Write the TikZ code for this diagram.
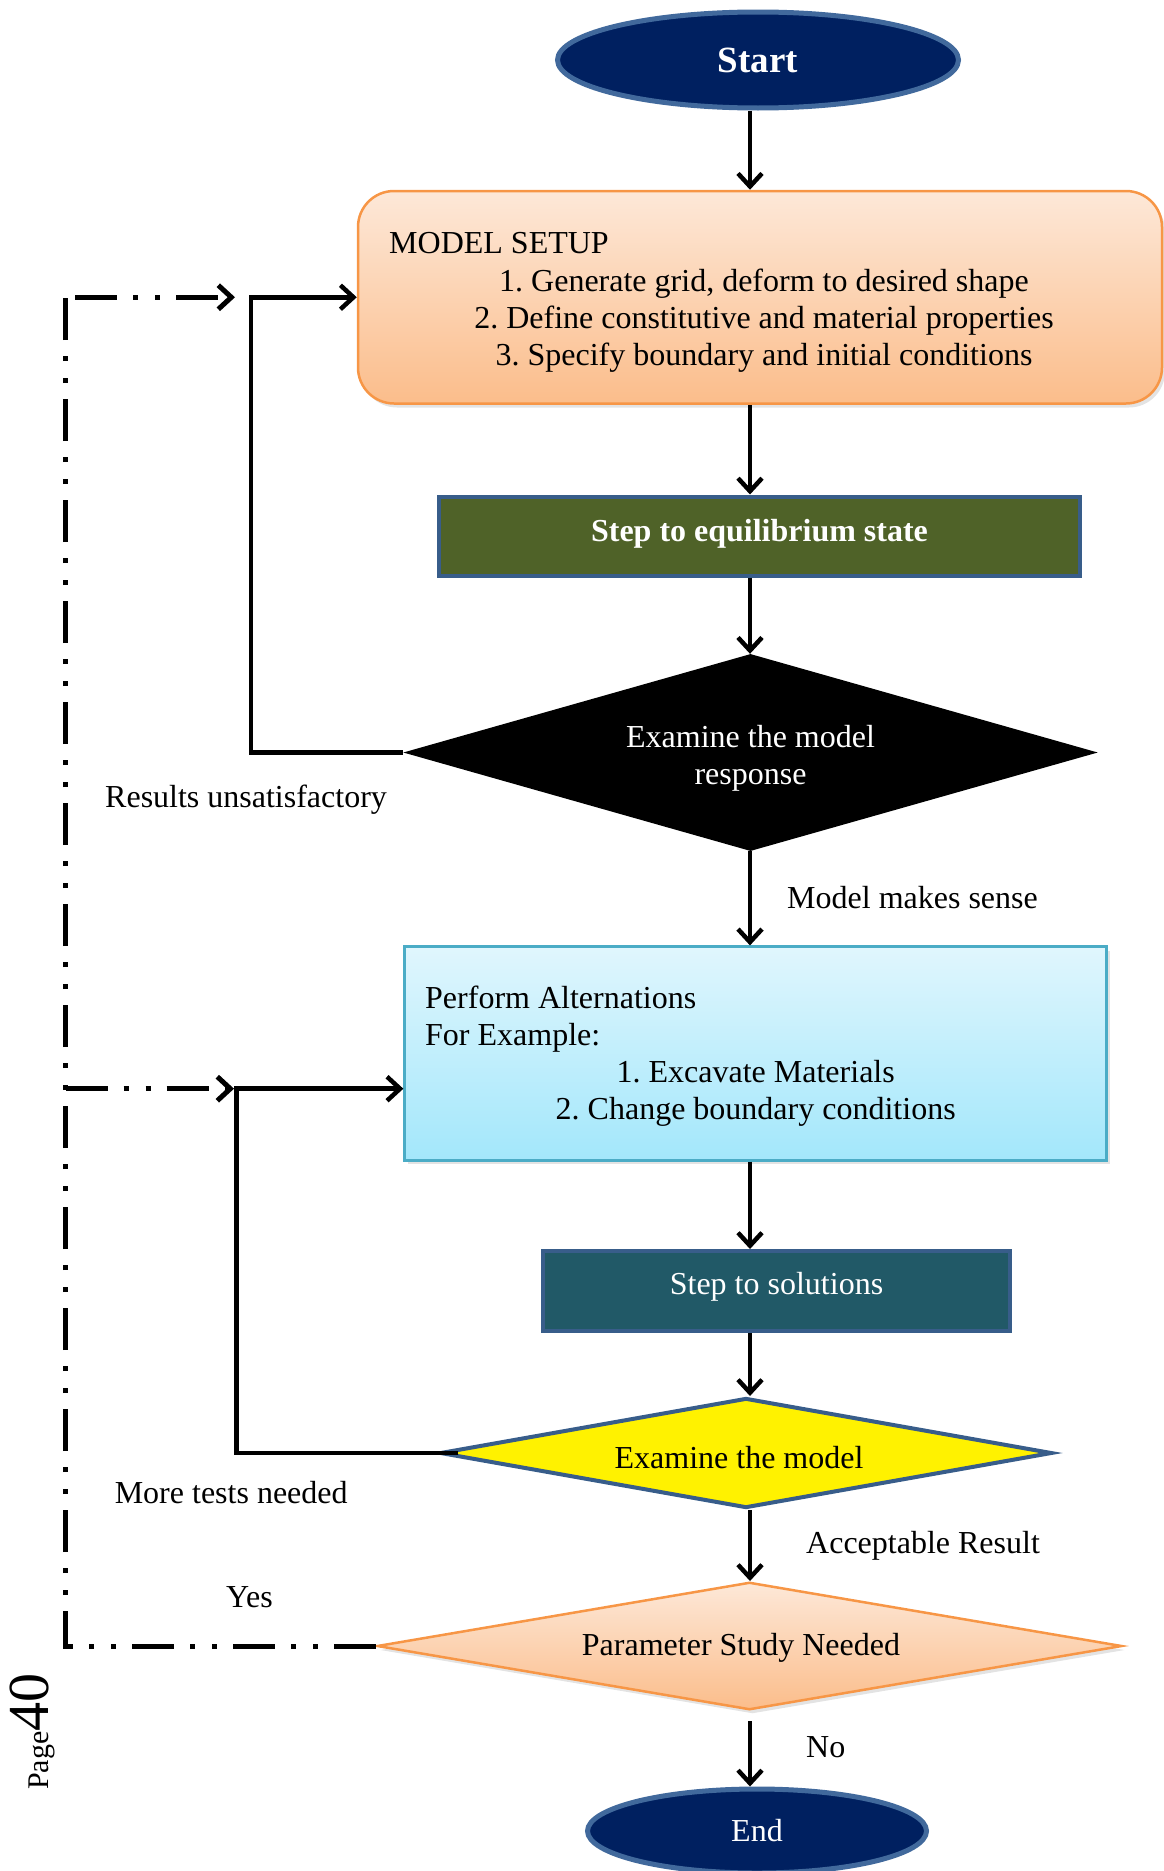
\documentclass[tikz,border=0pt]{standalone}
\usepackage{fontspec}
\setmainfont{Liberation Serif}
\usetikzlibrary{arrows.meta,shapes.geometric,shadows}
\definecolor{cNavy}{HTML}{002060}
\definecolor{cRing}{HTML}{41699C}
\definecolor{cOlive}{HTML}{4F6228}
\definecolor{cTeal}{HTML}{215967}
\definecolor{cBord}{HTML}{385D8A}
\definecolor{cOrgTop}{HTML}{FDE8D8}
\definecolor{cOrgBot}{HTML}{FBBD8B}
\definecolor{cOrgLine}{HTML}{F79646}
\definecolor{cCyanTop}{HTML}{E0F6FD}
\definecolor{cCyanBot}{HTML}{A3E7FB}
\definecolor{cCyanLine}{HTML}{4BACC6}
\frenchspacing
\begin{document}
\begin{tikzpicture}[x=1pt,y=-1pt,
  every node/.style={font=\fontsize{32}{37}\selectfont},
  txt/.style={inner sep=0pt},
  conn/.style={line width=4.5pt, draw=black},
  arr/.style={conn, -{Straight Barb[length=13pt,width=24pt]}},
  dd/.style={line width=5pt, draw=black, dash pattern=on 42pt off 16pt on 5pt off 17pt on 5pt off 16pt},
  ddarr/.style={dd, -{Straight Barb[length=13pt,width=24pt]}},
  term/.style={ellipse, fill=cNavy, draw=cRing, line width=5pt, text=white, inner sep=0pt},
  softshadow/.style={drop shadow={opacity=0.22, shadow xshift=3pt, shadow yshift=-4pt}},
  orangebox/.style={rectangle, rounded corners=36pt, top color=cOrgTop, bottom color=cOrgBot, draw=cOrgLine, line width=2.5pt, softshadow},
  cyanbox/.style={rectangle, top color=cCyanTop, bottom color=cCyanBot, draw=cCyanLine, line width=2.5pt, softshadow},
  darkbox/.style={rectangle, draw=cBord, line width=4pt, text=white},
  decision/.style={diamond, inner sep=0pt}
]
\useasboundingbox (0,0) rectangle (1164,1871);

% ---- nodes ----
\node[term, minimum width=401pt, minimum height=96pt, font=\fontsize{37}{40}\selectfont\bfseries] (start) at (758,60) {Start};

\node[orangebox, minimum width=804pt, minimum height=212.5pt] (setup) at (760,297.25) {};
\node[txt, anchor=base west] (setupT) at (389,253) {MODEL SETUP};
\node[txt, anchor=base] (setup1) at (764,291) {1. Generate grid, deform to desired shape};
\node[txt, anchor=base] (setup2) at (764,328) {2. Define constitutive and material properties};
\node[txt, anchor=base] (setup3) at (764,365) {3. Specify boundary and initial conditions};

\node[darkbox, fill=cOlive, minimum width=641pt, minimum height=79pt, font=\fontsize{32}{37}\selectfont\bfseries, text height=22pt, text depth=12pt] (stepeq) at (759.5,536) {Step to equilibrium state};

\node[decision, fill=black, minimum width=694.5pt, minimum height=197pt] (d1) at (750.5,752.5) {};
\node[txt, text=white, align=center] (d1t) at (750.5,758) {Examine the model\\response};

\node[cyanbox, minimum width=702pt, minimum height=213.7pt] (perform) at (755.6,1053.5) {};
\node[txt, anchor=base west] (perf1) at (425,1008) {Perform Alternations};
\node[txt, anchor=base west] (perf2) at (425,1045) {For Example:};
\node[txt, anchor=base] (perf3) at (755.7,1082) {1. Excavate Materials};
\node[txt, anchor=base] (perf4) at (755.7,1119) {2. Change boundary conditions};

\node[darkbox, fill=cTeal, minimum width=467pt, minimum height=80pt, text height=22pt, text depth=16pt] (stepsol) at (776.5,1291) {Step to solutions};

\node[decision, fill=yellow, draw=cBord, line width=4pt, minimum width=612pt, minimum height=110pt] (d2) at (746,1453) {};
\node[txt] (d2t) at (739,1458) {Examine the model};

\node[decision, top color=cOrgTop, bottom color=cOrgBot, draw=cOrgLine, line width=2.5pt, minimum width=745pt, minimum height=127.5pt, softshadow] (d3) at (749.5,1646) {};
\node[txt] (d3t) at (741,1648) {Parameter Study Needed};

\node[term, minimum width=339pt, minimum height=84pt] (end) at (757,1831) {End};

% ---- labels ----
\node[txt, anchor=base west] (lblsense) at (787,908) {Model makes sense};
\node[txt, anchor=base west] (lblunsat) at (105,807) {Results unsatisfactory};
\node[txt, anchor=base west] (lblmore) at (114.6,1503) {More tests needed};
\node[txt, anchor=base west] (lblacc) at (806,1553) {Acceptable Result};
\node[txt, anchor=base] (lblyes) at (249.5,1607) {Yes};
\node[txt, anchor=base west] (lblno) at (806,1757) {No};
\node[txt, rotate=90, anchor=base west] (page) at (48,1790) {\fontsize{30}{30}\selectfont Page\fontsize{58}{58}\selectfont 40};

% ---- main flow ----
\coordinate (ax) at (750,0);
\draw[arr] (start.south -| ax) -- (setup.north -| ax);
\draw[arr] (setup.south -| ax) -- (stepeq.north -| ax);
\draw[arr] (stepeq.south -| ax) -- (d1.north -| ax);
\draw[arr] (d1.south -| ax) -- (perform.north -| ax);
\draw[arr] (perform.south -| ax) -- (stepsol.north -| ax);
\draw[arr] (stepsol.south -| ax) -- (d2.north -| ax);
\draw[arr] (d2.south -| ax) -- (d3.north -| ax);
\draw[arr, shorten <=10pt] (d3.south -| ax) -- (end.north -| ax);

% ---- loop 1 ----
\coordinate (l1) at (251,297.25);
\draw[arr] (d1.west) -| (l1) -- (setup.west);

% ---- loop 2 ----
\coordinate (l2) at (236.4,1088.7);
\draw[arr] ([xshift=20pt]d2.west) -| (l2) -- (perform.west |- l2);

% ---- dash-dot feedback ----
\coordinate (vtop) at (65.7,297.25);
\draw[dd] (d3.west) -| (vtop);
\coordinate (tdd0) at (75,297.25);
\coordinate (tdd1) at (235,297.25);
\draw[ddarr] (tdd0) -- (tdd1);
\coordinate (m0) at (65.7,1088.7);
\coordinate (m1) at (234,1088.7);
\draw[ddarr] (m0) -- (m1);
\end{tikzpicture}
\end{document}
